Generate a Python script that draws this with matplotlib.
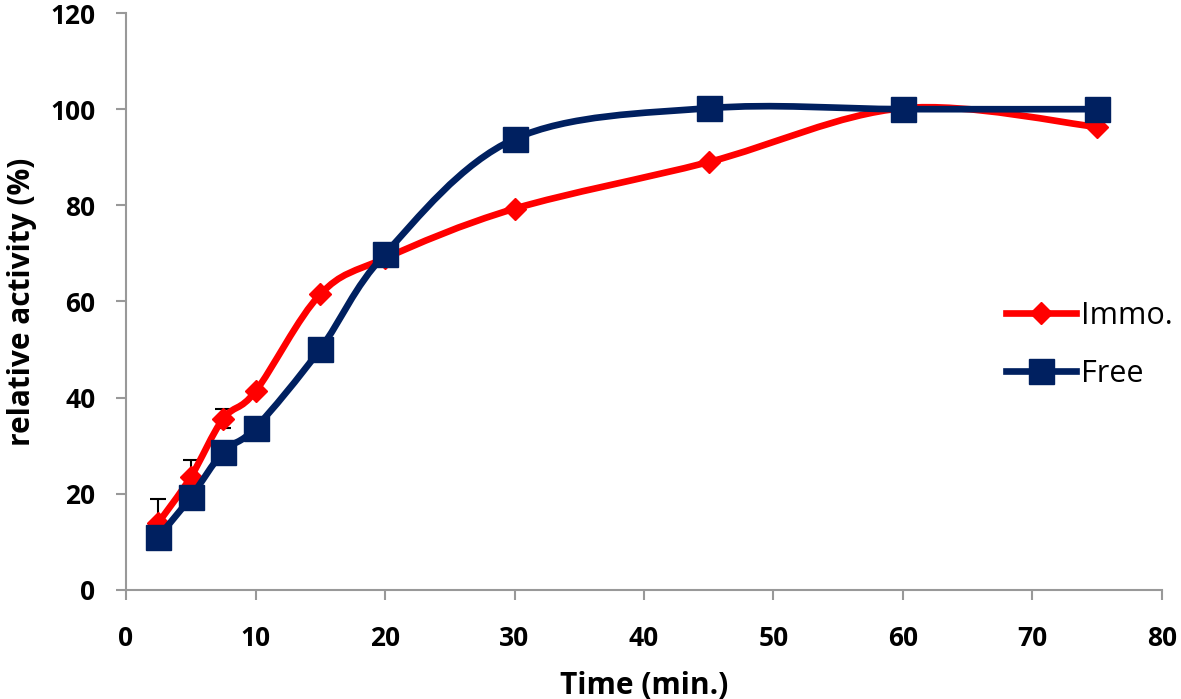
import numpy as np
import matplotlib
matplotlib.use("Agg")
import matplotlib.pyplot as plt
from matplotlib.path import Path
from matplotlib.patches import PathPatch
from matplotlib.lines import Line2D

# data
time = [2.5, 5, 7.5, 10, 15, 20, 30, 45, 60, 75]
immo = [14.0, 23.5, 35.6, 41.3, 61.5, 69.0, 79.3, 89.0, 100.2, 96.3]
immo_err = [5.0, 3.6, 2.0, 0.0, 0.0, 0.0, 0.0, 0.0, 1.2, 0.0]
free = [11.0, 19.3, 28.7, 33.7, 50.1, 69.9, 93.8, 100.2, 100.0, 100.0]
free_err = [0.0, 0.0, 0.0, 0.0, 0.0, 0.0, 0.0, 0.0, 1.0, 0.0]

red = "#ff0000"
navy = "#002060"
font = ["Open Sans", "DejaVu Sans"]


def smooth_path(x, y):
    # excel style smoothed line: cubic bezier through every point
    pts = np.column_stack([x, y]).astype(float)
    n = len(pts)
    verts = [pts[0]]
    codes = [Path.MOVETO]
    for i in range(n - 1):
        p0 = pts[i - 1] if i > 0 else pts[i]
        p1 = pts[i]
        p2 = pts[i + 1]
        p3 = pts[i + 2] if i + 2 < n else pts[i + 1]
        c1 = p1 + (p2 - p0) / 6.0
        c2 = p2 - (p3 - p1) / 6.0
        verts += [c1, c2, p2]
        codes += [Path.CURVE4] * 3
    return Path(verts, codes)


fig = plt.figure(figsize=(11.81, 6.99), dpi=100)
ax = fig.add_axes([0.1067, 0.156, 0.8772, 0.8254])

ax.errorbar(time, immo, yerr=immo_err, fmt="none", ecolor="black",
            elinewidth=1.5, capsize=6, capthick=1.5, zorder=1)
ax.errorbar(time, free, yerr=free_err, fmt="none", ecolor="black",
            elinewidth=1.5, capsize=6, capthick=1.5, zorder=1)

ax.add_patch(PathPatch(smooth_path(time, immo), facecolor="none",
                       edgecolor=red, lw=4.8, capstyle="round",
                       joinstyle="round", zorder=2))
ax.plot(time, immo, linestyle="none", marker="D", markersize=11.5,
        color=red, zorder=3, clip_on=False)
ax.add_patch(PathPatch(smooth_path(time, free), facecolor="none",
                       edgecolor=navy, lw=4.8, capstyle="round",
                       joinstyle="round", zorder=4))
ax.plot(time, free, linestyle="none", marker="s", markersize=18,
        color=navy, zorder=5, clip_on=False)

ax.set_xlim(0, 80)
ax.set_ylim(0, 120)
ax.set_xticks(np.arange(0, 81, 10))
ax.set_yticks(np.arange(0, 121, 20))

for s in ["top", "right"]:
    ax.spines[s].set_visible(False)
for s in ["left", "bottom"]:
    ax.spines[s].set_color("#999999")
    ax.spines[s].set_linewidth(1.5)
ax.tick_params(axis="both", direction="out", length=7, width=1.5,
               color="#999999", labelsize=19)
ax.tick_params(axis="y", pad=15)
ax.tick_params(axis="x", pad=18)
for lab in ax.get_xticklabels() + ax.get_yticklabels():
    lab.set_fontweight("bold")
    lab.set_fontfamily(font)

ax.set_xlabel("Time (min.)", fontsize=21.5, fontweight="bold",
              fontfamily=font)
ax.set_ylabel("relative activity (%)", fontsize=21.5, fontweight="bold",
              fontfamily=font)
ax.xaxis.set_label_coords(0.5, -0.14)
ax.yaxis.set_label_coords(-0.086, 0.5)

handles = [
    Line2D([], [], color=red, lw=4.8, marker="D", markersize=11.5),
    Line2D([], [], color=navy, lw=4.8, marker="s", markersize=18),
]
ax.legend(handles, ["Immo.", "Free"], loc="center left",
          bbox_to_anchor=(0.823, 0.425), frameon=False, handlelength=2.3,
          handletextpad=0.16, labelspacing=0.9,
          prop={"family": font, "size": 22})

fig.savefig("out.png", dpi=100)
